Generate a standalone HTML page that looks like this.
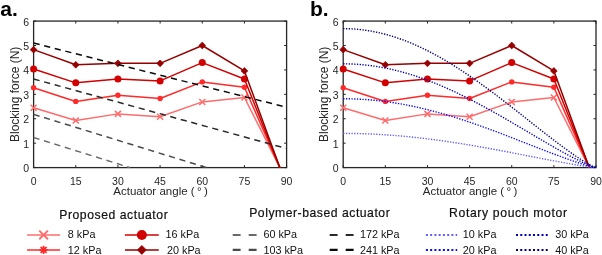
<!DOCTYPE html>
<html><head><meta charset="utf-8"><style>
html,body{margin:0;padding:0;background:#fff;width:602px;height:255px;overflow:hidden}
svg{display:block;transform:translateZ(0)}
text{font-family:"Liberation Sans",sans-serif;fill:#262626}
.tl{font-size:10.5px}
.al{font-size:11.8px}
.yl{font-size:12px}
.pl{font-size:21px;font-weight:bold;fill:#000}
.lt{font-size:12.2px;fill:#111;stroke:#111;stroke-width:0.2px}
.lg{font-size:10.8px;fill:#111}
</style></head><body>
<svg width="602" height="255" viewBox="0 0 602 255">
<rect x="33.60" y="21.08" width="253.00" height="146.52" fill="none" stroke="#262626" stroke-width="1.3"/>
<path d="M33.60,167.60v-2.5M33.60,21.08v2.5M75.77,167.60v-2.5M75.77,21.08v2.5M117.93,167.60v-2.5M117.93,21.08v2.5M160.10,167.60v-2.5M160.10,21.08v2.5M202.27,167.60v-2.5M202.27,21.08v2.5M244.43,167.60v-2.5M244.43,21.08v2.5M286.60,167.60v-2.5M286.60,21.08v2.5M33.60,167.60h2.5M286.60,167.60h-2.5M33.60,143.18h2.5M286.60,143.18h-2.5M33.60,118.76h2.5M286.60,118.76h-2.5M33.60,94.34h2.5M286.60,94.34h-2.5M33.60,69.92h2.5M286.60,69.92h-2.5M33.60,45.50h2.5M286.60,45.50h-2.5M33.60,21.08h2.5M286.60,21.08h-2.5" stroke="#262626" stroke-width="1" fill="none"/>
<polyline points="33.60,107.77 75.77,120.47 117.93,113.88 160.10,116.81 202.27,101.91 244.43,97.51 279.85,167.60" fill="none" stroke="#FF6C6C" stroke-width="1.5" stroke-linejoin="round"/>
<path d="M30.60,104.77L36.60,110.77M30.60,110.77L36.60,104.77" stroke="#FF6C6C" stroke-width="1.50" fill="none"/>
<path d="M72.77,117.47L78.77,123.47M72.77,123.47L78.77,117.47" stroke="#FF6C6C" stroke-width="1.50" fill="none"/>
<path d="M114.93,110.88L120.93,116.88M114.93,116.88L120.93,110.88" stroke="#FF6C6C" stroke-width="1.50" fill="none"/>
<path d="M157.10,113.81L163.10,119.81M157.10,119.81L163.10,113.81" stroke="#FF6C6C" stroke-width="1.50" fill="none"/>
<path d="M199.27,98.91L205.27,104.91M199.27,104.91L205.27,98.91" stroke="#FF6C6C" stroke-width="1.50" fill="none"/>
<path d="M241.43,94.51L247.43,100.51M241.43,100.51L247.43,94.51" stroke="#FF6C6C" stroke-width="1.50" fill="none"/>
<polyline points="33.60,87.75 75.77,101.42 117.93,95.32 160.10,98.49 202.27,81.89 244.43,87.26 279.85,167.60" fill="none" stroke="#FF2A2A" stroke-width="1.5" stroke-linejoin="round"/>
<circle cx="33.60" cy="87.75" r="2.7" fill="#FF2A2A"/>
<circle cx="75.77" cy="101.42" r="2.7" fill="#FF2A2A"/>
<circle cx="117.93" cy="95.32" r="2.7" fill="#FF2A2A"/>
<circle cx="160.10" cy="98.49" r="2.7" fill="#FF2A2A"/>
<circle cx="202.27" cy="81.89" r="2.7" fill="#FF2A2A"/>
<circle cx="244.43" cy="87.26" r="2.7" fill="#FF2A2A"/>
<polyline points="33.60,68.94 75.77,82.86 117.93,78.96 160.10,80.91 202.27,62.59 244.43,78.96 279.85,167.60" fill="none" stroke="#D20000" stroke-width="1.5" stroke-linejoin="round"/>
<circle cx="33.60" cy="68.94" r="3.50" fill="#D20000"/>
<circle cx="75.77" cy="82.86" r="3.50" fill="#D20000"/>
<circle cx="117.93" cy="78.96" r="3.50" fill="#D20000"/>
<circle cx="160.10" cy="80.91" r="3.50" fill="#D20000"/>
<circle cx="202.27" cy="62.59" r="3.50" fill="#D20000"/>
<circle cx="244.43" cy="78.96" r="3.50" fill="#D20000"/>
<polyline points="33.60,49.65 75.77,64.79 117.93,63.33 160.10,63.33 202.27,45.50 244.43,70.90 279.85,167.60" fill="none" stroke="#960000" stroke-width="1.5" stroke-linejoin="round"/>
<path d="M33.60,46.25L37.00,49.65L33.60,53.05L30.20,49.65Z" fill="#960000" stroke="#960000" stroke-width="0.7" stroke-linejoin="round"/>
<path d="M75.77,61.39L79.17,64.79L75.77,68.19L72.37,64.79Z" fill="#960000" stroke="#960000" stroke-width="0.7" stroke-linejoin="round"/>
<path d="M117.93,59.93L121.33,63.33L117.93,66.73L114.53,63.33Z" fill="#960000" stroke="#960000" stroke-width="0.7" stroke-linejoin="round"/>
<path d="M160.10,59.93L163.50,63.33L160.10,66.73L156.70,63.33Z" fill="#960000" stroke="#960000" stroke-width="0.7" stroke-linejoin="round"/>
<path d="M202.27,42.10L205.67,45.50L202.27,48.90L198.87,45.50Z" fill="#960000" stroke="#960000" stroke-width="0.7" stroke-linejoin="round"/>
<path d="M244.43,67.50L247.83,70.90L244.43,74.30L241.03,70.90Z" fill="#960000" stroke="#960000" stroke-width="0.7" stroke-linejoin="round"/>
<line x1="33.60" y1="137.56" x2="130.02" y2="167.60" stroke="#6A6A6A" stroke-width="1.5" stroke-dasharray="6.2,4.7"/>
<line x1="33.60" y1="114.36" x2="206.48" y2="167.60" stroke="#4A4A4A" stroke-width="1.5" stroke-dasharray="6.2,4.7"/>
<line x1="33.60" y1="78.96" x2="286.60" y2="148.55" stroke="#2A2A2A" stroke-width="1.5" stroke-dasharray="6.2,4.7"/>
<line x1="33.60" y1="43.06" x2="286.60" y2="107.28" stroke="#0A0A0A" stroke-width="1.5" stroke-dasharray="6.2,4.7"/>
<text x="33.60" y="184.7" class="tl" text-anchor="middle">0</text>
<text x="75.77" y="184.7" class="tl" text-anchor="middle">15</text>
<text x="117.93" y="184.7" class="tl" text-anchor="middle">30</text>
<text x="160.10" y="184.7" class="tl" text-anchor="middle">45</text>
<text x="202.27" y="184.7" class="tl" text-anchor="middle">60</text>
<text x="244.43" y="184.7" class="tl" text-anchor="middle">75</text>
<text x="286.60" y="184.7" class="tl" text-anchor="middle">90</text>
<text x="29.10" y="172.10" class="tl" text-anchor="end">0</text>
<text x="29.10" y="147.68" class="tl" text-anchor="end">1</text>
<text x="29.10" y="123.26" class="tl" text-anchor="end">2</text>
<text x="29.10" y="98.84" class="tl" text-anchor="end">3</text>
<text x="29.10" y="74.42" class="tl" text-anchor="end">4</text>
<text x="29.10" y="50.00" class="tl" text-anchor="end">5</text>
<text x="29.10" y="25.58" class="tl" text-anchor="end">6</text>
<text x="160.50" y="195.0" class="al" text-anchor="middle" textLength="94.5" lengthAdjust="spacingAndGlyphs">Actuator angle (&#8201;°&#8201;)</text>
<text transform="translate(18.60,94.34) rotate(-90)" class="yl" text-anchor="middle">Blocking force (N)</text>
<rect x="343.20" y="21.08" width="252.80" height="146.52" fill="none" stroke="#262626" stroke-width="1.3"/>
<path d="M343.20,167.60v-2.5M343.20,21.08v2.5M385.33,167.60v-2.5M385.33,21.08v2.5M427.47,167.60v-2.5M427.47,21.08v2.5M469.60,167.60v-2.5M469.60,21.08v2.5M511.73,167.60v-2.5M511.73,21.08v2.5M553.87,167.60v-2.5M553.87,21.08v2.5M596.00,167.60v-2.5M596.00,21.08v2.5M343.20,167.60h2.5M596.00,167.60h-2.5M343.20,143.18h2.5M596.00,143.18h-2.5M343.20,118.76h2.5M596.00,118.76h-2.5M343.20,94.34h2.5M596.00,94.34h-2.5M343.20,69.92h2.5M596.00,69.92h-2.5M343.20,45.50h2.5M596.00,45.50h-2.5M343.20,21.08h2.5M596.00,21.08h-2.5" stroke="#262626" stroke-width="1" fill="none"/>
<polyline points="343.20,107.77 385.33,120.47 427.47,113.88 469.60,116.81 511.73,101.91 553.87,97.51 589.26,167.60" fill="none" stroke="#FF6C6C" stroke-width="1.5" stroke-linejoin="round"/>
<path d="M340.20,104.77L346.20,110.77M340.20,110.77L346.20,104.77" stroke="#FF6C6C" stroke-width="1.50" fill="none"/>
<path d="M382.33,117.47L388.33,123.47M382.33,123.47L388.33,117.47" stroke="#FF6C6C" stroke-width="1.50" fill="none"/>
<path d="M424.47,110.88L430.47,116.88M424.47,116.88L430.47,110.88" stroke="#FF6C6C" stroke-width="1.50" fill="none"/>
<path d="M466.60,113.81L472.60,119.81M466.60,119.81L472.60,113.81" stroke="#FF6C6C" stroke-width="1.50" fill="none"/>
<path d="M508.73,98.91L514.73,104.91M508.73,104.91L514.73,98.91" stroke="#FF6C6C" stroke-width="1.50" fill="none"/>
<path d="M550.87,94.51L556.87,100.51M550.87,100.51L556.87,94.51" stroke="#FF6C6C" stroke-width="1.50" fill="none"/>
<polyline points="343.20,87.75 385.33,101.42 427.47,95.32 469.60,98.49 511.73,81.89 553.87,87.26 589.26,167.60" fill="none" stroke="#FF2A2A" stroke-width="1.5" stroke-linejoin="round"/>
<circle cx="343.20" cy="87.75" r="2.7" fill="#FF2A2A"/>
<circle cx="385.33" cy="101.42" r="2.7" fill="#FF2A2A"/>
<circle cx="427.47" cy="95.32" r="2.7" fill="#FF2A2A"/>
<circle cx="469.60" cy="98.49" r="2.7" fill="#FF2A2A"/>
<circle cx="511.73" cy="81.89" r="2.7" fill="#FF2A2A"/>
<circle cx="553.87" cy="87.26" r="2.7" fill="#FF2A2A"/>
<polyline points="343.20,68.94 385.33,82.86 427.47,78.96 469.60,80.91 511.73,62.59 553.87,78.96 589.26,167.60" fill="none" stroke="#D20000" stroke-width="1.5" stroke-linejoin="round"/>
<circle cx="343.20" cy="68.94" r="3.50" fill="#D20000"/>
<circle cx="385.33" cy="82.86" r="3.50" fill="#D20000"/>
<circle cx="427.47" cy="78.96" r="3.50" fill="#D20000"/>
<circle cx="469.60" cy="80.91" r="3.50" fill="#D20000"/>
<circle cx="511.73" cy="62.59" r="3.50" fill="#D20000"/>
<circle cx="553.87" cy="78.96" r="3.50" fill="#D20000"/>
<polyline points="343.20,49.65 385.33,64.79 427.47,63.33 469.60,63.33 511.73,45.50 553.87,70.90 589.26,167.60" fill="none" stroke="#960000" stroke-width="1.5" stroke-linejoin="round"/>
<path d="M343.20,46.25L346.60,49.65L343.20,53.05L339.80,49.65Z" fill="#960000" stroke="#960000" stroke-width="0.7" stroke-linejoin="round"/>
<path d="M385.33,61.39L388.73,64.79L385.33,68.19L381.93,64.79Z" fill="#960000" stroke="#960000" stroke-width="0.7" stroke-linejoin="round"/>
<path d="M427.47,59.93L430.87,63.33L427.47,66.73L424.07,63.33Z" fill="#960000" stroke="#960000" stroke-width="0.7" stroke-linejoin="round"/>
<path d="M469.60,59.93L473.00,63.33L469.60,66.73L466.20,63.33Z" fill="#960000" stroke="#960000" stroke-width="0.7" stroke-linejoin="round"/>
<path d="M511.73,42.10L515.13,45.50L511.73,48.90L508.33,45.50Z" fill="#960000" stroke="#960000" stroke-width="0.7" stroke-linejoin="round"/>
<path d="M553.87,67.50L557.27,70.90L553.87,74.30L550.47,70.90Z" fill="#960000" stroke="#960000" stroke-width="0.7" stroke-linejoin="round"/>
<polyline points="343.20,133.41 346.01,133.42 348.82,133.44 351.63,133.47 354.44,133.51 357.24,133.57 360.05,133.64 362.86,133.72 365.67,133.81 368.48,133.92 371.29,134.03 374.10,134.16 376.91,134.31 379.72,134.46 382.52,134.63 385.33,134.81 388.14,135.00 390.95,135.20 393.76,135.41 396.57,135.63 399.38,135.87 402.19,136.12 405.00,136.38 407.80,136.65 410.61,136.93 413.42,137.22 416.23,137.52 419.04,137.83 421.85,138.16 424.66,138.49 427.47,138.83 430.28,139.18 433.08,139.55 435.89,139.92 438.70,140.30 441.51,140.69 444.32,141.09 447.13,141.50 449.94,141.91 452.75,142.34 455.56,142.77 458.36,143.21 461.17,143.66 463.98,144.11 466.79,144.58 469.60,145.04 472.41,145.52 475.22,146.00 478.03,146.49 480.84,146.98 483.64,147.48 486.45,147.99 489.26,148.50 492.07,149.01 494.88,149.53 497.69,150.05 500.50,150.58 503.31,151.11 506.12,151.64 508.92,152.18 511.73,152.72 514.54,153.26 517.35,153.80 520.16,154.35 522.97,154.89 525.78,155.44 528.59,155.98 531.40,156.53 534.20,157.08 537.01,157.62 539.82,158.17 542.63,158.71 545.44,159.25 548.25,159.78 551.06,160.32 553.87,160.85 556.68,161.37 559.48,161.89 562.29,162.41 565.10,162.92 567.91,163.42 570.72,163.91 573.53,164.39 576.34,164.87 579.15,165.33 581.96,165.77 584.76,166.20 587.57,166.61 590.38,166.99 593.19,167.33 596.00,167.60" fill="none" stroke="#6060FF" stroke-width="1.4" stroke-dasharray="1.3,1.45"/>
<polyline points="343.20,98.74 346.01,98.75 348.82,98.79 351.63,98.85 354.44,98.94 357.24,99.05 360.05,99.19 362.86,99.35 365.67,99.54 368.48,99.75 371.29,99.99 374.10,100.25 376.91,100.54 379.72,100.85 382.52,101.18 385.33,101.54 388.14,101.92 390.95,102.33 393.76,102.76 396.57,103.21 399.38,103.69 402.19,104.19 405.00,104.71 407.80,105.25 410.61,105.82 413.42,106.40 416.23,107.01 419.04,107.64 421.85,108.29 424.66,108.96 427.47,109.65 430.28,110.36 433.08,111.09 435.89,111.84 438.70,112.61 441.51,113.40 444.32,114.20 447.13,115.02 449.94,115.86 452.75,116.71 455.56,117.59 458.36,118.47 461.17,119.37 463.98,120.29 466.79,121.22 469.60,122.17 472.41,123.12 475.22,124.10 478.03,125.08 480.84,126.07 483.64,127.08 486.45,128.10 489.26,129.12 492.07,130.16 494.88,131.20 497.69,132.26 500.50,133.32 503.31,134.39 506.12,135.46 508.92,136.54 511.73,137.63 514.54,138.71 517.35,139.81 520.16,140.90 522.97,142.00 525.78,143.10 528.59,144.20 531.40,145.30 534.20,146.40 537.01,147.50 539.82,148.60 542.63,149.69 545.44,150.77 548.25,151.86 551.06,152.93 553.87,154.00 556.68,155.06 559.48,156.11 562.29,157.14 565.10,158.17 567.91,159.17 570.72,160.17 573.53,161.14 576.34,162.09 579.15,163.02 581.96,163.92 584.76,164.78 587.57,165.60 590.38,166.37 593.19,167.07 596.00,167.60" fill="none" stroke="#0A0AFF" stroke-width="1.4" stroke-dasharray="1.3,1.45"/>
<polyline points="343.20,63.81 346.01,63.83 348.82,63.89 351.63,63.99 354.44,64.12 357.24,64.29 360.05,64.50 362.86,64.74 365.67,65.03 368.48,65.35 371.29,65.70 374.10,66.10 376.91,66.53 379.72,67.00 382.52,67.50 385.33,68.04 388.14,68.62 390.95,69.23 393.76,69.88 396.57,70.56 399.38,71.28 402.19,72.03 405.00,72.82 407.80,73.64 410.61,74.49 413.42,75.37 416.23,76.29 419.04,77.24 421.85,78.22 424.66,79.23 427.47,80.27 430.28,81.34 433.08,82.44 435.89,83.57 438.70,84.72 441.51,85.91 444.32,87.12 447.13,88.36 449.94,89.62 452.75,90.91 455.56,92.22 458.36,93.56 461.17,94.92 463.98,96.30 466.79,97.70 469.60,99.13 472.41,100.57 475.22,102.03 478.03,103.52 480.84,105.02 483.64,106.53 486.45,108.06 489.26,109.61 492.07,111.17 494.88,112.75 497.69,114.33 500.50,115.93 503.31,117.54 506.12,119.16 508.92,120.79 511.73,122.42 514.54,124.07 517.35,125.71 520.16,127.37 522.97,129.02 525.78,130.68 528.59,132.34 531.40,134.00 534.20,135.65 537.01,137.31 539.82,138.96 542.63,140.60 545.44,142.24 548.25,143.87 551.06,145.49 553.87,147.10 556.68,148.70 559.48,150.28 562.29,151.84 565.10,153.38 567.91,154.90 570.72,156.40 573.53,157.86 576.34,159.30 579.15,160.69 581.96,162.05 584.76,163.35 587.57,164.59 590.38,165.75 593.19,166.79 596.00,167.60" fill="none" stroke="#0000C0" stroke-width="1.4" stroke-dasharray="1.3,1.45"/>
<polyline points="343.20,28.65 346.01,28.68 348.82,28.75 351.63,28.88 354.44,29.06 357.24,29.28 360.05,29.56 362.86,29.89 365.67,30.27 368.48,30.70 371.29,31.18 374.10,31.71 376.91,32.29 379.72,32.91 382.52,33.59 385.33,34.31 388.14,35.08 390.95,35.90 393.76,36.77 396.57,37.68 399.38,38.64 402.19,39.65 405.00,40.70 407.80,41.80 410.61,42.94 413.42,44.12 416.23,45.35 419.04,46.62 421.85,47.93 424.66,49.28 427.47,50.68 430.28,52.11 433.08,53.58 435.89,55.10 438.70,56.64 441.51,58.23 444.32,59.85 447.13,61.51 449.94,63.20 452.75,64.93 455.56,66.68 458.36,68.47 461.17,70.29 463.98,72.14 466.79,74.02 469.60,75.93 472.41,77.86 475.22,79.82 478.03,81.80 480.84,83.81 483.64,85.84 486.45,87.89 489.26,89.96 492.07,92.05 494.88,94.16 497.69,96.29 500.50,98.43 503.31,100.58 506.12,102.75 508.92,104.93 511.73,107.12 514.54,109.32 517.35,111.52 520.16,113.73 522.97,115.95 525.78,118.17 528.59,120.39 531.40,122.61 534.20,124.83 537.01,127.04 539.82,129.25 542.63,131.46 545.44,133.65 548.25,135.83 551.06,138.00 553.87,140.16 556.68,142.29 559.48,144.41 562.29,146.50 565.10,148.56 567.91,150.60 570.72,152.60 573.53,154.56 576.34,156.48 579.15,158.35 581.96,160.17 584.76,161.91 587.57,163.57 590.38,165.12 593.19,166.52 596.00,167.60" fill="none" stroke="#000080" stroke-width="1.4" stroke-dasharray="1.3,1.45"/>
<text x="343.20" y="184.7" class="tl" text-anchor="middle">0</text>
<text x="385.33" y="184.7" class="tl" text-anchor="middle">15</text>
<text x="427.47" y="184.7" class="tl" text-anchor="middle">30</text>
<text x="469.60" y="184.7" class="tl" text-anchor="middle">45</text>
<text x="511.73" y="184.7" class="tl" text-anchor="middle">60</text>
<text x="553.87" y="184.7" class="tl" text-anchor="middle">75</text>
<text x="596.00" y="184.7" class="tl" text-anchor="middle">90</text>
<text x="338.70" y="172.10" class="tl" text-anchor="end">0</text>
<text x="338.70" y="147.68" class="tl" text-anchor="end">1</text>
<text x="338.70" y="123.26" class="tl" text-anchor="end">2</text>
<text x="338.70" y="98.84" class="tl" text-anchor="end">3</text>
<text x="338.70" y="74.42" class="tl" text-anchor="end">4</text>
<text x="338.70" y="50.00" class="tl" text-anchor="end">5</text>
<text x="338.70" y="25.58" class="tl" text-anchor="end">6</text>
<text x="470.00" y="195.0" class="al" text-anchor="middle" textLength="94.5" lengthAdjust="spacingAndGlyphs">Actuator angle (&#8201;°&#8201;)</text>
<text transform="translate(328.20,94.34) rotate(-90)" class="yl" text-anchor="middle">Blocking force (N)</text>
<text x="0.3" y="15.8" class="pl">a.</text>
<text x="310" y="15.8" class="pl">b.</text>
<text x="59.2" y="218.6" class="lt" textLength="108.5" lengthAdjust="spacing">Proposed actuator</text>
<text x="249.2" y="217.2" class="lt" textLength="140.5" lengthAdjust="spacing">Polymer-based actuator</text>
<text x="449.0" y="217.0" class="lt" textLength="118" lengthAdjust="spacing">Rotary pouch motor</text>
<line x1="27.1" y1="234.95" x2="60.1" y2="234.95" stroke="#FF6C6C" stroke-width="1.5"/><path d="M39.25,230.60L47.95,239.30M39.25,239.30L47.95,230.60" stroke="#FF6C6C" stroke-width="1.91" fill="none"/><text x="67.8" y="237.54999999999998" class="lg">8 kPa</text>
<line x1="27.1" y1="249.9" x2="60.1" y2="249.9" stroke="#FF2A2A" stroke-width="1.5"/><circle cx="43.60" cy="249.90" r="2.61" fill="#FF2A2A"/><path d="M39.40,249.90h8.41M43.60,245.69v8.41M40.63,246.93l5.95,5.95M40.63,252.87l5.95,-5.95" stroke="#FF2A2A" stroke-width="1.59" fill="none"/><text x="67.8" y="254.3" class="lg">12 kPa</text>
<line x1="124.9" y1="234.95" x2="158.8" y2="234.95" stroke="#D20000" stroke-width="1.5"/><circle cx="141.85" cy="234.95" r="5.00" fill="#D20000"/><text x="165.6" y="237.54999999999998" class="lg">16 kPa</text>
<line x1="124.9" y1="249.9" x2="158.8" y2="249.9" stroke="#960000" stroke-width="1.5"/><path d="M141.85,245.38L146.37,249.90L141.85,254.42L137.33,249.90Z" fill="#960000" stroke="#960000" stroke-width="0.7" stroke-linejoin="round"/><text x="167.0" y="254.3" class="lg">20 kPa</text>
<line x1="232.7" y1="234.95" x2="257.4" y2="234.95" stroke="#6A6A6A" stroke-width="2.1" stroke-dasharray="7.9,8.1"/><text x="263.4" y="237.54999999999998" class="lg">60 kPa</text>
<line x1="232.7" y1="249.9" x2="257.4" y2="249.9" stroke="#4A4A4A" stroke-width="2.1" stroke-dasharray="7.9,8.1"/><text x="263.4" y="254.3" class="lg">103 kPa</text>
<line x1="329.7" y1="234.95" x2="354.5" y2="234.95" stroke="#2A2A2A" stroke-width="2.1" stroke-dasharray="7.9,8.1"/><text x="359.9" y="237.54999999999998" class="lg">172 kPa</text>
<line x1="329.7" y1="249.9" x2="354.5" y2="249.9" stroke="#0A0A0A" stroke-width="2.1" stroke-dasharray="7.9,8.1"/><text x="359.9" y="254.3" class="lg">241 kPa</text>
<line x1="425.9" y1="234.95" x2="457.2" y2="234.95" stroke="#6060FF" stroke-width="2" stroke-dasharray="2,2.25"/><text x="462.8" y="237.54999999999998" class="lg">10 kPa</text>
<line x1="425.9" y1="249.9" x2="457.2" y2="249.9" stroke="#0A0AFF" stroke-width="2" stroke-dasharray="2,2.25"/><text x="462.8" y="254.3" class="lg">20 kPa</text>
<line x1="516.0" y1="234.95" x2="547.7" y2="234.95" stroke="#0000C0" stroke-width="2" stroke-dasharray="2,2.25"/><text x="555.2" y="237.54999999999998" class="lg">30 kPa</text>
<line x1="516.0" y1="249.9" x2="547.7" y2="249.9" stroke="#000080" stroke-width="2" stroke-dasharray="2,2.25"/><text x="555.2" y="254.3" class="lg">40 kPa</text>
</svg></body></html>
